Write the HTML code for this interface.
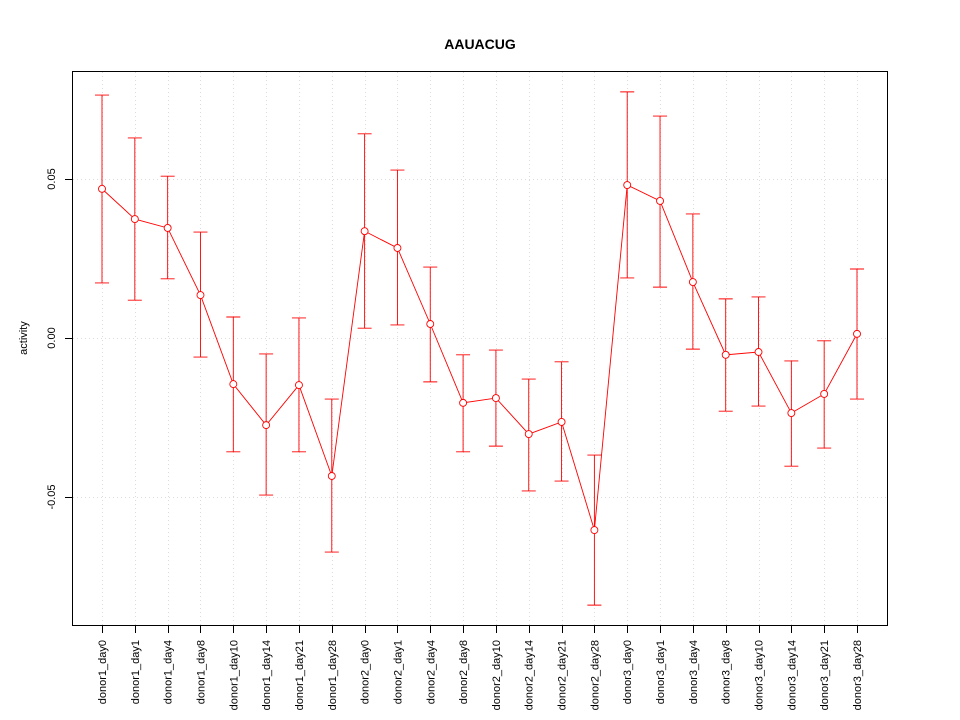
<!DOCTYPE html>
<html><head><meta charset="utf-8">
<style>
body{margin:0;background:#fff;}
svg{display:block;font-family:"Liberation Sans",Arial,sans-serif;}
</style></head>
<body>
<svg id="chart" width="960" height="720" xmlns="http://www.w3.org/2000/svg">
<rect width="960" height="720" fill="#fff"/>
<text x="480" y="49" text-anchor="middle" font-size="14" font-weight="bold">AAUACUG</text>
<text transform="translate(27,338) rotate(-90)" text-anchor="middle" font-size="11">activity</text>
<g id="grid"></g><g id="axes"></g><g id="marks"></g>
<rect x="72.5" y="71.5" width="815" height="554" fill="none" stroke="#000" stroke-width="1"/>
</svg>
<script>
const categories=["donor1_day0","donor1_day1","donor1_day4","donor1_day8","donor1_day10","donor1_day14","donor1_day21","donor1_day28","donor2_day0","donor2_day1","donor2_day4","donor2_day8","donor2_day10","donor2_day14","donor2_day21","donor2_day28","donor3_day0","donor3_day1","donor3_day4","donor3_day8","donor3_day10","donor3_day14","donor3_day21","donor3_day28"];
const values=[0.0469,0.0374,0.0346,0.0135,-0.0145,-0.0274,-0.0148,-0.0434,0.0336,0.0283,0.0044,-0.0204,-0.0189,-0.0302,-0.0264,-0.0604,0.0481,0.0431,0.0176,-0.0053,-0.0044,-0.0236,-0.0176,0.0013];
const upper=[0.0764,0.0629,0.0509,0.0333,0.0066,-0.005,0.0063,-0.0192,0.0642,0.0528,0.0223,-0.0053,-0.0038,-0.0129,-0.0075,-0.0368,0.0774,0.0698,0.039,0.0123,0.0129,-0.0072,-0.0009,0.0217];
const lower=[0.0173,0.0119,0.0186,-0.006,-0.0358,-0.0494,-0.0358,-0.0673,0.0031,0.0041,-0.0138,-0.0358,-0.034,-0.0481,-0.045,-0.084,0.0189,0.016,-0.0035,-0.023,-0.0214,-0.0403,-0.0346,-0.0192];
const yTicks=[-0.05,0,0.05];
const yTickLabels=["-0.05","0.00","0.05"];

const NS="http://www.w3.org/2000/svg";
function x(i){return 102+i*(857-102)/(categories.length-1);}
function y(v){return 338-v*3180;}
function mk(parent,tag,attrs){const e=document.createElementNS(NS,tag);for(const k in attrs)e.setAttribute(k,attrs[k]);document.getElementById(parent).appendChild(e);return e;}

categories.forEach((c,i)=>{
  const xp=Math.round(x(i))+0.5;
  const g=mk("grid","line",{x1:xp,x2:xp,y1:72,y2:625,stroke:"#dcdcdc","stroke-dasharray":"1,3"});
  
  
  const t=mk("axes","line",{x1:xp,x2:xp,y1:626,y2:633,stroke:"#000"});
  
  
  const l=mk("axes","text",{transform:`translate(${x(i)+4},640) rotate(-90)`,"text-anchor":"end","font-size":"11"});
  l.textContent=c;
  
  
});
yTicks.forEach((v,i)=>{
  const yp=Math.round(y(v))+0.5;
  const g=mk("grid","line",{x1:73,x2:887,y1:yp,y2:yp,stroke:"#dcdcdc","stroke-dasharray":"1,3"});
  
  
  const t=mk("axes","line",{x1:65,x2:72,y1:yp,y2:yp,stroke:"#000"});
  
  
  const l=mk("axes","text",{transform:`translate(55,${y(v)}) rotate(-90)`,"text-anchor":"middle","font-size":"11"});
  l.textContent=yTickLabels[i];
  
  
});
const line=mk("marks","polyline",{points:values.map((v,i)=>x(i)+","+y(v)).join(" "),fill:"none",stroke:"#ff0000","stroke-width":"0.9"});


values.forEach((v,i)=>{
  const e=mk("marks","path",{d:`M${x(i)},${y(upper[i])}V${y(lower[i])}M${x(i)-7},${y(upper[i])}H${x(i)+7}M${x(i)-7},${y(lower[i])}H${x(i)+7}`,stroke:"#ff0000",fill:"none","stroke-width":"0.9"});
  
  
  const p=mk("marks","circle",{cx:x(i),cy:y(v),r:3.5,fill:"#fff",stroke:"#ff0000","stroke-width":"0.9"});
  
  
});
</script>
</body></html>
